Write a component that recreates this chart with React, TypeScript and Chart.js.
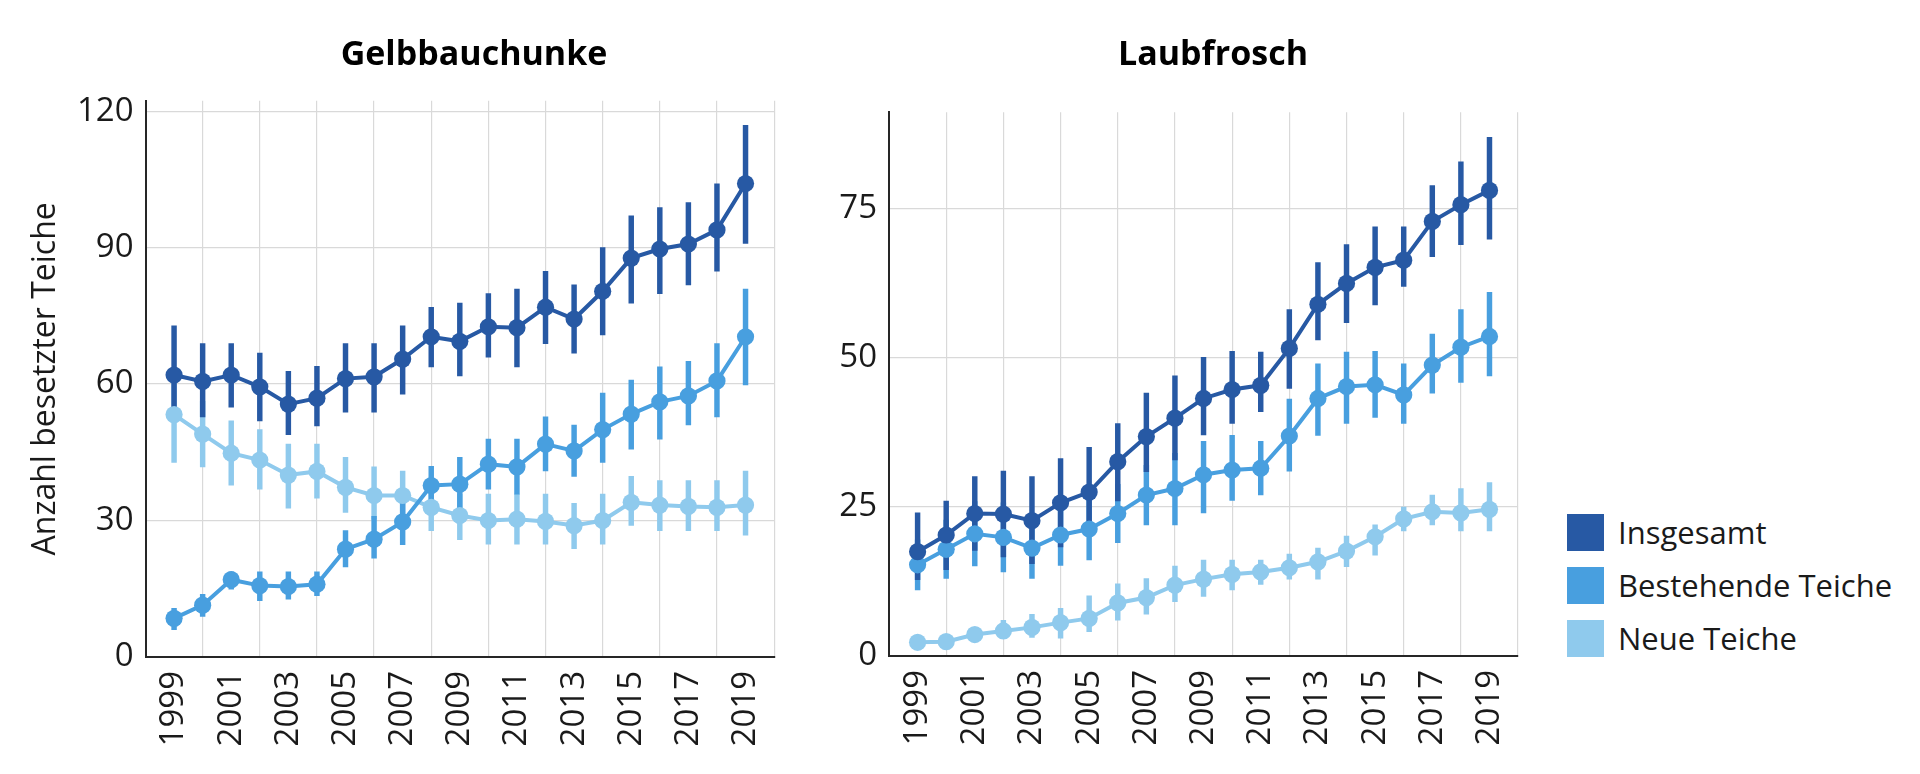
import React, { useEffect, useRef } from "react";
import { Chart, registerables } from "chart.js";

Chart.register(...registerables);

// ---------- data ----------
const years = [1999, 2000, 2001, 2002, 2003, 2004, 2005, 2006, 2007, 2008, 2009, 2010, 2011, 2012, 2013, 2014, 2015, 2016, 2017, 2018, 2019];
const xTickYears = [1999, 2001, 2003, 2005, 2007, 2009, 2011, 2013, 2015, 2017, 2019];
const seriesNames = ["Insgesamt", "Bestehende Teiche", "Neue Teiche"];
const chartTitles = ["Gelbbauchunke", "Laubfrosch"];
const yAxisTitle = "Anzahl besetzter Teiche";
const gelbYTicks = [0, 30, 60, 90, 120];
const laubYTicks = [0, 25, 50, 75];

// Gelbbauchunke
const gelbInsg = [62.0, 60.6, 62.0, 59.4, 55.6, 56.9, 61.2, 61.6, 65.5, 70.4, 69.4, 72.6, 72.4, 76.9, 74.3, 80.4, 87.7, 89.7, 90.8, 93.9, 104.1];
const gelbInsgLo = [52.0, 52.8, 54.9, 51.9, 48.9, 50.8, 53.8, 53.8, 57.8, 63.8, 61.8, 65.9, 63.8, 68.9, 66.8, 70.8, 77.8, 79.9, 81.8, 84.8, 90.9];
const gelbInsgHi = [72.8, 68.9, 68.9, 66.8, 62.8, 63.9, 68.9, 68.9, 72.8, 76.9, 77.8, 79.9, 80.9, 84.8, 81.8, 90.0, 97.0, 98.8, 99.9, 104.0, 116.9];

const gelbBest = [8.5, 11.4, 17.0, 15.7, 15.5, 16.0, 23.7, 25.9, 29.7, 37.7, 38.0, 42.4, 41.8, 46.8, 45.3, 50.0, 53.4, 56.1, 57.4, 60.7, 70.4];
const gelbBestLo = [6.0, 8.9, 14.9, 12.4, 12.7, 13.5, 19.8, 21.7, 24.7, 33.5, 32.5, 36.9, 35.8, 40.9, 39.7, 42.8, 45.7, 47.9, 51.0, 52.8, 59.8];
const gelbBestHi = [10.7, 13.8, 18.7, 18.7, 18.7, 18.7, 27.8, 30.9, 35.5, 41.9, 43.9, 47.9, 47.9, 52.8, 51.0, 58.0, 60.9, 63.8, 65.0, 68.9, 80.9];

const gelbNeu = [53.3, 49.0, 44.8, 43.3, 40.0, 40.8, 37.3, 35.5, 35.5, 32.9, 31.1, 30.0, 30.3, 29.8, 28.9, 30.0, 34.0, 33.4, 33.1, 32.9, 33.4];
const gelbNeuLo = [42.8, 41.8, 37.8, 36.9, 32.7, 34.9, 31.8, 30.3, 30.0, 27.8, 25.8, 24.8, 24.8, 24.8, 23.8, 24.8, 28.9, 27.8, 27.8, 27.8, 26.8];
const gelbNeuHi = [63.0, 56.2, 51.9, 50.0, 46.8, 46.8, 43.9, 41.8, 40.9, 38.0, 35.8, 35.8, 35.8, 35.8, 33.8, 35.8, 39.7, 38.8, 38.8, 38.8, 40.9];

// Laubfrosch
const laubInsg = [17.5, 20.3, 23.9, 23.8, 22.7, 25.7, 27.5, 32.6, 36.8, 39.9, 43.2, 44.7, 45.4, 51.6, 59.0, 62.5, 65.2, 66.4, 72.9, 75.7, 78.1];
const laubInsgLo = [12.8, 14.5, 17.7, 16.6, 15.5, 18.3, 20.0, 26.0, 30.9, 32.9, 37.1, 39.0, 41.0, 44.9, 53.0, 55.9, 58.9, 62.0, 67.0, 69.0, 69.9];
const laubInsgHi = [24.0, 26.0, 30.1, 31.0, 30.1, 33.1, 35.0, 39.0, 44.1, 47.0, 50.1, 51.1, 51.0, 58.1, 66.0, 69.0, 72.0, 72.0, 78.9, 82.9, 87.0];

const laubBest = [15.3, 17.9, 20.5, 19.9, 18.1, 20.3, 21.3, 23.9, 27.0, 28.1, 30.4, 31.2, 31.5, 36.9, 43.2, 45.2, 45.5, 43.8, 48.8, 51.8, 53.6];
const laubBestLo = [11.1, 13.0, 15.1, 14.1, 13.0, 15.2, 16.1, 19.0, 22.0, 22.0, 24.0, 26.1, 27.0, 31.0, 37.0, 39.0, 40.0, 39.0, 44.1, 45.9, 47.0];
const laubBestHi = [19.5, 22.8, 25.9, 25.7, 23.2, 25.4, 26.5, 28.8, 32.0, 34.0, 36.0, 37.0, 36.0, 43.1, 49.0, 51.0, 51.1, 49.0, 54.0, 58.1, 61.0];

const laubNeu = [2.3, 2.4, 3.6, 4.2, 4.8, 5.6, 6.3, 8.9, 9.8, 11.9, 12.9, 13.7, 14.1, 14.8, 15.8, 17.6, 20.0, 23.0, 24.2, 24.0, 24.6];
const laubNeuLo = [1.6, 1.7, 2.6, 2.9, 3.1, 3.0, 4.1, 6.0, 7.0, 9.1, 10.0, 11.1, 12.0, 12.9, 12.9, 15.0, 16.9, 21.0, 22.0, 21.0, 21.0];
const laubNeuHi = [3.0, 3.1, 4.6, 6.0, 7.0, 8.0, 10.1, 12.1, 13.0, 15.1, 16.1, 16.1, 16.1, 17.1, 18.1, 20.1, 22.0, 25.0, 27.0, 28.1, 29.1];

// ---------- styles ----------
const COLORS = ["#2759a4", "#489fdf", "#8fcaed"];
const FONT = "'Open Sans', 'Noto Sans', 'DejaVu Sans', sans-serif";
const TEXT = "#1a1a1a";

type Series = { mid: number[]; lo: number[]; hi: number[] };

function buildDatasets(series: Series[]) {
  const lines = series.map((s, k) => ({
    type: "line" as const,
    label: seriesNames[k],
    data: years.map((x, i) => ({ x, y: s.mid[i] })),
    borderColor: COLORS[k],
    backgroundColor: COLORS[k],
    borderWidth: 4,
    pointRadius: 8.6,
    pointHoverRadius: 8.6,
    pointBorderWidth: 0,
    pointBackgroundColor: COLORS[k],
    tension: 0,
    fill: false,
    order: 1 + k,
  }));
  const bars = series.map((s, k) => ({
    type: "bar" as const,
    label: seriesNames[k] + " CI",
    data: years.map((x, i) => ({ x, y: [s.lo[i], s.hi[i]] })),
    backgroundColor: COLORS[k],
    borderWidth: 0,
    barThickness: 4.8,
    grouped: false,
    order: 4 + k,
  }));
  return [...lines, ...bars];
}

function buildOptions(opts: {
  yMax: number;
  yTicks: number[];
  yWidth: number;
  xHeight: number;
  padTop: number;
  padRight: number;
  showYTitle: boolean;
}) {
  const tickFont = { family: FONT, size: 33, weight: "400" as any };
  return {
    responsive: false,
    animation: false as const,
    events: [] as any[],
    layout: { padding: { top: opts.padTop, right: opts.padRight, left: 0, bottom: 0 } },
    plugins: {
      legend: { display: false },
      tooltip: { enabled: false },
      title: { display: false },
    },
    scales: {
      x: {
        type: "linear" as const,
        min: 1998,
        max: 2020,
        offset: false,
        afterBuildTicks: (s: any) => {
          s.ticks = xTickYears.map((v) => ({ value: v }));
        },
        afterFit: (s: any) => {
          s.height = opts.xHeight;
        },
        grid: { color: "#d9d9d9", lineWidth: 1.2, drawTicks: false },
        border: { display: true, color: "#262626", width: 2 },
        ticks: {
          autoSkip: false,
          maxRotation: 90,
          minRotation: 90,
          padding: 14,
          color: TEXT,
          font: tickFont,
          callback: (v: any) => String(v),
        },
      },
      y: {
        type: "linear" as const,
        min: 0,
        max: opts.yMax,
        afterBuildTicks: (s: any) => {
          s.ticks = opts.yTicks.map((v) => ({ value: v }));
        },
        afterFit: (s: any) => {
          s.width = opts.yWidth;
        },
        grid: { color: "#d9d9d9", lineWidth: 1.2, drawTicks: false },
        border: { display: true, color: "#262626", width: 2 },
        ticks: {
          padding: 12,
          color: TEXT,
          font: tickFont,
          callback: (v: any) => String(v),
        },
        title: {
          display: opts.showYTitle,
          text: yAxisTitle,
          color: TEXT,
          font: { family: FONT, size: 32, weight: "400" as any },
          padding: { top: 27, bottom: 0 },
        },
      },
    },
  };
}

function PanelChart(props: {
  left: number;
  width: number;
  series: Series[];
  yMax: number;
  yTicks: number[];
  yWidth: number;
  xHeight: number;
  padTop: number;
  padRight: number;
  showYTitle: boolean;
}) {
  const ref = useRef<HTMLCanvasElement | null>(null);
  useEffect(() => {
    if (!ref.current) return;
    const chart = new Chart(ref.current, {
      type: "line",
      data: { datasets: buildDatasets(props.series) as any },
      options: buildOptions(props) as any,
    });
    return () => chart.destroy();
  }, []);
  return (
    <canvas
      ref={ref}
      width={props.width}
      height={774}
      style={{ position: "absolute", left: props.left, top: 0, width: props.width, height: 774 }}
    />
  );
}

export default function App() {
  const gelbSeries: Series[] = [
    { mid: gelbInsg, lo: gelbInsgLo, hi: gelbInsgHi },
    { mid: gelbBest, lo: gelbBestLo, hi: gelbBestHi },
    { mid: gelbNeu, lo: gelbNeuLo, hi: gelbNeuHi },
  ];
  const laubSeries: Series[] = [
    { mid: laubInsg, lo: laubInsgLo, hi: laubInsgHi },
    { mid: laubBest, lo: laubBestLo, hi: laubBestHi },
    { mid: laubNeu, lo: laubNeuLo, hi: laubNeuHi },
  ];
  const titleStyle = (center: number): React.CSSProperties => ({
    position: "absolute",
    left: center,
    top: 35,
    transform: "translateX(-50%)",
    fontFamily: FONT,
    fontWeight: 700,
    fontSize: 34,
    lineHeight: "34px",
    color: "#000",
    whiteSpace: "nowrap",
  });
  return (
    <div
      style={{
        position: "absolute",
        left: 0,
        top: 0,
        width: 1920,
        height: 774,
        background: "#fff",
        overflow: "hidden",
      }}
    >
      <PanelChart
        left={0}
        width={800}
        series={gelbSeries}
        yMax={122.3}
        yTicks={gelbYTicks}
        yWidth={145.5}
        xHeight={117}
        padTop={100.7}
        padRight={19}
        showYTitle={true}
      />
      <PanelChart
        left={810}
        width={734}
        series={laubSeries}
        yMax={91.2}
        yTicks={laubYTicks}
        yWidth={79}
        xHeight={118}
        padTop={112.3}
        padRight={20}
        showYTitle={false}
      />
      <div style={titleStyle(474)}>{chartTitles[0]}</div>
      <div style={titleStyle(1213)}>{chartTitles[1]}</div>
      <div style={{ position: "absolute", left: 1567, top: 514 }}>
        {seriesNames.map((name, k) => (
          <div
            key={name}
            style={{ display: "flex", alignItems: "center", height: 37, marginBottom: 16 }}
          >
            <div style={{ width: 37, height: 37, background: COLORS[k] }} />
            <div
              style={{
                marginLeft: 14,
                fontFamily: FONT,
                fontSize: 31,
                lineHeight: "37px",
                color: TEXT,
                whiteSpace: "nowrap",
              }}
            >
              {name}
            </div>
          </div>
        ))}
      </div>
    </div>
  );
}
